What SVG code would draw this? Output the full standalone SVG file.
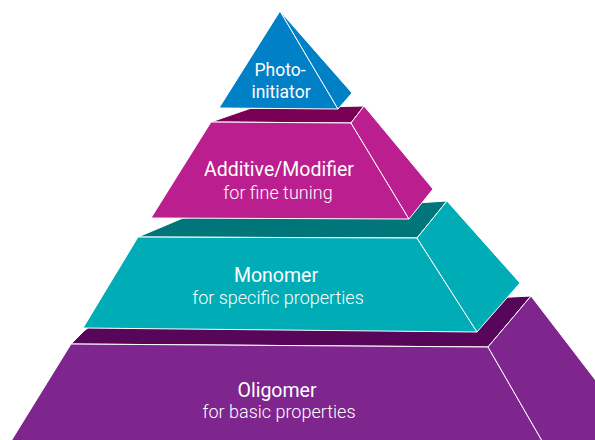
<svg xmlns="http://www.w3.org/2000/svg" width="595" height="440" viewBox="0 0 595 440">
<style>
.f{stroke:#ffffff;stroke-width:1;stroke-linejoin:round}
.t{font-family:Roboto,"Liberation Sans",sans-serif;fill:#ffffff;text-anchor:middle}
.h{font-size:19.5px}
.s{font-size:18px;font-weight:300}
.p{font-size:17.5px}
.purple{fill:#7E258E}.purpleD{fill:#57065A}
.teal{fill:#00ADB6}.tealD{fill:#00767A}
.mag{fill:#BB1E8E}.magD{fill:#7A0055}
.blue{fill:#0080C6}
</style>
<rect width="595" height="440" fill="#ffffff"/>
<g id="oligomer">
<polygon class="f purpleD" points="71,344 84,331 100,318 531,296 488,347"/>
<polygon class="f purple" points="71,344 488,347 545,446 8,446"/>
<polygon class="f purple" points="488,347 531,296 597,382 597,446 553,446 545,446"/>
<text class="t h" x="277" y="397">Oligomer</text>
<text class="t s" x="279" y="418">for basic properties</text>
</g>
<g id="monomer">
<polygon class="f tealD" points="138,237 183,218 447,201 417,238"/>
<polygon class="f teal" points="138,237 417,238 477,332 83,328"/>
<polygon class="f teal" points="417,238 447,201 520,283 477,332"/>
<text class="t h" x="276" y="282">Monomer</text>
<text class="t s" x="278" y="304">for specific properties</text>
</g>
<g id="additive">
<polygon class="f magD" points="211,122 250,108.5 364,106 351,123"/>
<polygon class="f mag" points="211,122 351,123 409,219 151,218"/>
<polygon class="f mag" points="351,123 364,106 433,189 409,219"/>
<text class="t h" x="279" y="176">Additive/Modifier</text>
<text class="t s" x="278" y="199">for fine tuning</text>
</g>
<g id="photoinitiator">
<polygon class="f blue" points="280,11 338,109 219,108"/>
<polygon class="f blue" points="280,11 352,93 338,109"/>
<text class="t p" x="280" y="76">Photo-</text>
<text class="t p" x="281" y="98">initiator</text>
</g>
<g id="connectors"/>
</svg>
